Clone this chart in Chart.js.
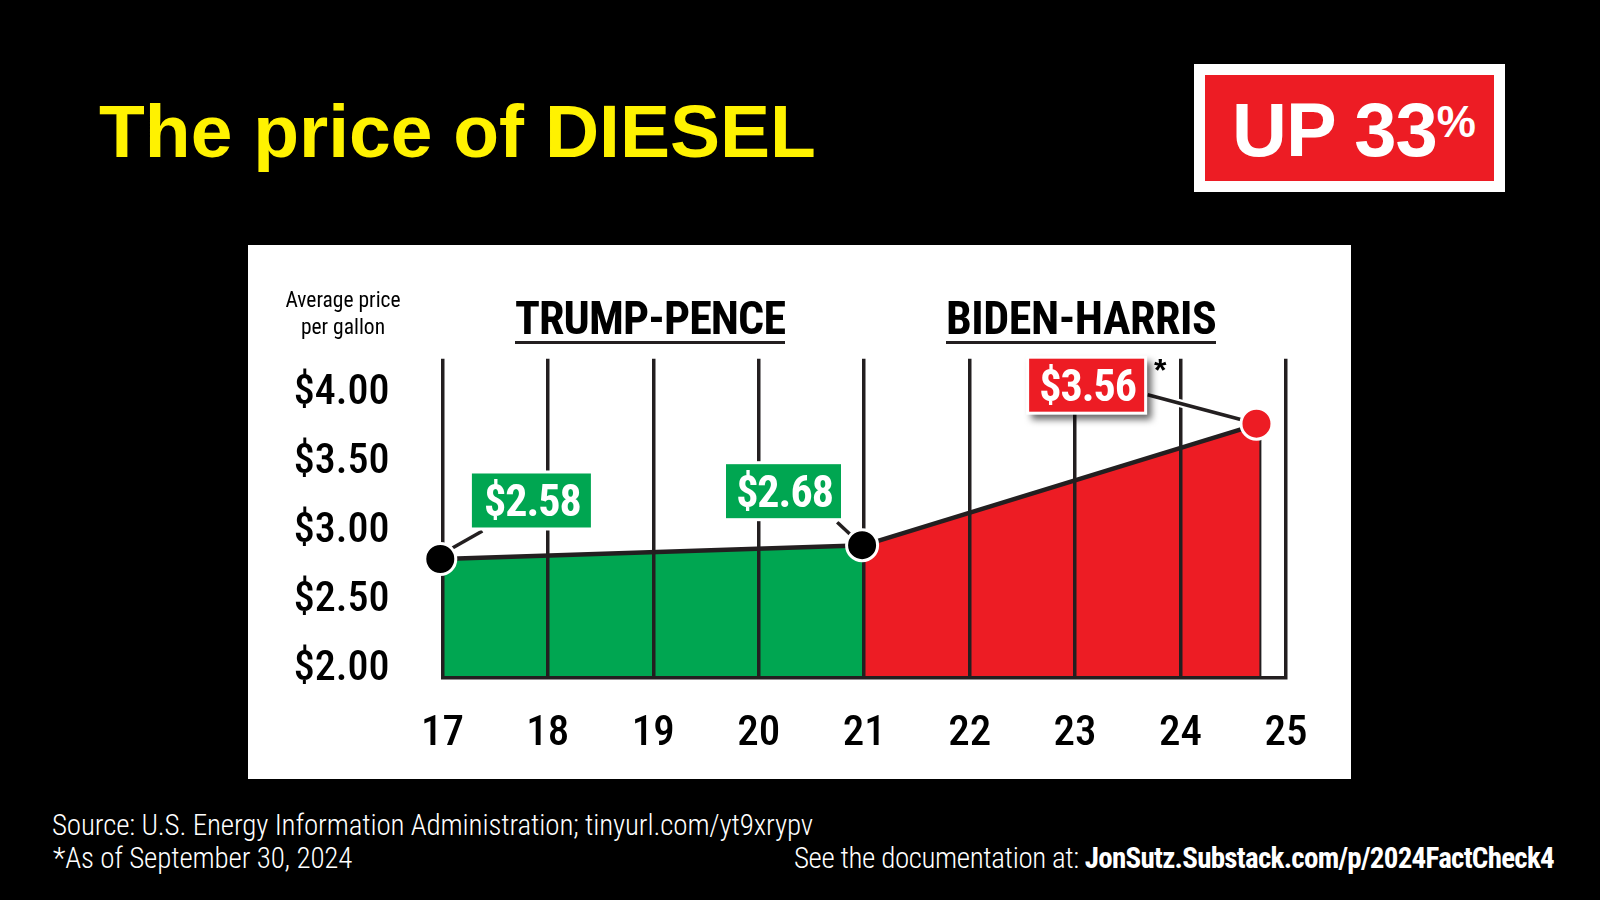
<!DOCTYPE html>
<html>
<head>
<meta charset="utf-8">
<title>The price of DIESEL</title>
<script src="https://cdn.jsdelivr.net/npm/chart.js@4/dist/chart.umd.min.js"></script>
<style>
html, body { margin: 0; padding: 0; background: #000; }
body { position: relative; width: 1600px; height: 900px; overflow: hidden; color: #fff; }
div { position: absolute; white-space: nowrap; }
#title { left: 99px; top: 88px; font: bold 75px/86px "Liberation Sans"; color: #fff200; }
#badge { left: 1194px; top: 64px; width: 289px; height: 106px; border: 11px solid #fff; background: #ed1c24; }
#badgeText { left: 27px; top: 4px; font: bold 76px/86px "Liberation Sans"; letter-spacing: -1px; }
#badgeText span { font-size: 44px; vertical-align: 19px; }
#panel { left: 248px; top: 245px; width: 1103px; height: 534px; background: #fff; }
#panel canvas { display: block; }
.head { font: bold 46px/46px "Roboto Condensed"; color: #000; border-bottom: 3px solid #231f20; }
#trump { left: 267px; top: 50px; letter-spacing: -0.9px; }
#biden { left: 698px; top: 50px; letter-spacing: -0.45px; }
#unit { left: 20px; top: 41px; width: 150px; text-align: center; font: 21.5px/27px "Roboto Condensed"; color: #000; }
.foot { font: 300 29px/34px "Roboto Condensed"; letter-spacing: -0.14px; }
#src1 { left: 52px; top: 808px; }
#src2 { left: 53px; top: 841px; }
#doc { right: 46px; top: 841px; letter-spacing: -0.39px; }
#doc b { font-weight: bold; letter-spacing: -0.73px; }
</style>
</head>
<body>
<div id="title">The price of DIESEL</div>
<div id="badge"><div id="badgeText">UP 33<span>%</span></div></div>
<div id="panel">
  <canvas id="dieselChart" width="1103" height="534"></canvas>
  <div id="unit">Average price<br>per gallon</div>
  <div id="trump" class="head">TRUMP-PENCE</div>
  <div id="biden" class="head">BIDEN-HARRIS</div>
</div>
<div id="src1" class="foot">Source: U.S. Energy Information Administration; tinyurl.com/yt9xrypv</div>
<div id="src2" class="foot">*As of September 30, 2024</div>
<div id="doc" class="foot">See the documentation at: <b>JonSutz.Substack.com/p/2024FactCheck4</b></div>

<script>
const yearTicks = [2017, 2018, 2019, 2020, 2021, 2022, 2023, 2024, 2025];
const yearLabels = ['17', '18', '19', '20', '21', '22', '23', '24', '25'];
const priceTicks = [2, 2.5, 3, 3.5, 4];
const priceTickLabels = ['$2.00', '$2.50', '$3.00', '$3.50', '$4.00'];

const trumpYears = [2017, 2021];
const trumpPrices = [2.58, 2.68];
const bidenYears = [2021, 2024.75];
const bidenPrices = [2.68, 3.56];
const dotYears = [2016.98, 2020.98, 2024.72];
const dotPrices = [2.58, 2.68, 3.56];

const pts = (xs, ys) => xs.map((x, i) => ({ x: x, y: ys[i] }));
const ink = '#231f20';
const green = '#00a651';
const red = '#ed1c24';

// the printed price ticks sit about 25px lower than the plotted values, so they get their own axis
const yRange = { min: 1.718, max: 4.03 };
const tickRange = { min: 1.936, max: 4.249 };

const callouts = [
    { text: '$2.58', year: 2017, price: 2.58, color: green, dx: 89, dy: -58.5, w: 119, h: 54, from: [10, -11], to: [40, -28] },
    { text: '$2.68', year: 2021, price: 2.68, color: green, dx: -80.7, dy: -54, w: 115, h: 54, from: [-12, -9], to: [-27, -23] },
    { text: '$3.56', year: 2024.75, price: 3.56, color: red, dx: -173, dy: -38.5, w: 115, h: 53, from: [-18, -4], to: [-112, -29], shadow: true, star: true }
];

const calloutPlugin = {
    id: 'callouts',
    afterDraw(chart) {
        const ctx = chart.ctx;
        const xs = chart.scales.x;
        const ys = chart.scales.y;
        callouts.forEach(c => {
            const px = xs.getPixelForValue(c.year);
            const py = ys.getPixelForValue(c.price);
            ctx.save();
            ctx.strokeStyle = '#fff';
            ctx.lineWidth = 8;
            ctx.beginPath();
            ctx.moveTo(px + c.from[0], py + c.from[1]);
            ctx.lineTo(px + c.to[0], py + c.to[1]);
            ctx.stroke();
            ctx.strokeStyle = ink;
            ctx.lineWidth = 3.5;
            ctx.stroke();

            const bx = px + c.dx - c.w / 2;
            const by = py + c.dy - c.h / 2;
            if (c.shadow) {
                ctx.shadowColor = 'rgba(0,0,0,0.6)';
                ctx.shadowBlur = 7;
                ctx.shadowOffsetX = 5;
                ctx.shadowOffsetY = 5;
            }
            ctx.fillStyle = '#fff';
            ctx.fillRect(bx - 3, by - 3, c.w + 6, c.h + 6);
            ctx.shadowColor = 'transparent';
            ctx.fillStyle = c.color;
            ctx.fillRect(bx, by, c.w, c.h);
            ctx.fillStyle = '#fff';
            ctx.font = 'bold 44px "Roboto Condensed"';
            ctx.letterSpacing = '-1px';
            ctx.textAlign = 'center';
            ctx.textBaseline = 'middle';
            ctx.fillText(c.text, px + c.dx + 1, py + c.dy + 5);
            ctx.letterSpacing = '0px';
            if (c.star) {
                ctx.fillStyle = '#000';
                ctx.font = 'bold 32px "Liberation Sans"';
                ctx.fillText('*', bx + c.w + 16, by + 13);
            }
            ctx.restore();
        });
        // markers go back on top of the gridlines and leaders
        chart.getDatasetMeta(3).data.forEach(p => p.draw(ctx));
    }
};

new Chart(document.getElementById('dieselChart').getContext('2d'), {
    type: 'line',
    data: {
        datasets: [
            {
                data: pts(trumpYears, trumpPrices),
                borderColor: ink, borderWidth: 4.5, backgroundColor: green,
                fill: 'start', pointRadius: 0, tension: 0
            },
            {
                data: pts(bidenYears, bidenPrices),
                borderColor: ink, borderWidth: 4.5, backgroundColor: red,
                fill: 'start', pointRadius: 0, tension: 0
            },
            {
                // drop line under the last reading
                data: pts([bidenYears[1], bidenYears[1]], [yRange.min, bidenPrices[1]]),
                borderColor: ink, borderWidth: 3.5, pointRadius: 0, fill: false
            },
            {
                data: pts(dotYears, dotPrices),
                showLine: false, clip: false,
                pointRadius: 15.5, pointBorderWidth: 3, pointBorderColor: '#fff',
                pointBackgroundColor: ['#000', '#000', red]
            }
        ]
    },
    plugins: [calloutPlugin],
    options: {
        responsive: false,
        animation: false,
        events: [],
        layout: { padding: { top: 113.8, right: 65, left: 0, bottom: 0 } },
        plugins: { legend: { display: false }, tooltip: { enabled: false } },
        scales: {
            x: {
                type: 'linear',
                min: yearTicks[0],
                max: yearTicks[yearTicks.length - 1],
                afterFit(scale) { scale.height = 101; },
                afterBuildTicks(scale) { scale.ticks = yearTicks.map(v => ({ value: v })); },
                grid: { color: ink, lineWidth: 3.5, drawTicks: false, z: 1 },
                border: { color: ink, width: 3.5, z: 1 },
                ticks: {
                    callback: (v, i) => yearLabels[i],
                    color: '#000', padding: 30, maxRotation: 0, autoSkip: false,
                    font: { family: '"Roboto Condensed"', size: 43, weight: '500' }
                }
            },
            y: { display: false, min: yRange.min, max: yRange.max },
            priceLabels: {
                position: 'left',
                min: tickRange.min,
                max: tickRange.max,
                afterFit(scale) { scale.width = 194.4; },
                afterBuildTicks(scale) { scale.ticks = priceTicks.map(v => ({ value: v })); },
                grid: { display: false, drawTicks: false },
                border: { display: false },
                ticks: {
                    callback: (v, i) => priceTickLabels[i],
                    color: '#000', padding: 53, autoSkip: false,
                    font: { family: '"Roboto Condensed"', size: 42, weight: '500' }
                }
            }
        }
    }
});
</script>
</body>
</html>
